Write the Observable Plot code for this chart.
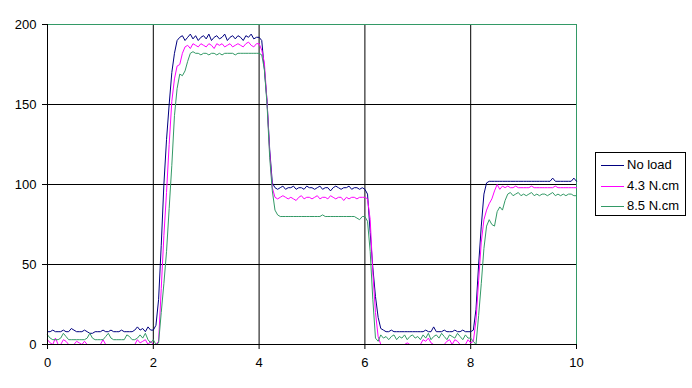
<!DOCTYPE html>
<html>
<head>
<meta charset="utf-8">
<script src="https://cdn.jsdelivr.net/npm/d3@7"></script>
<script src="https://cdn.jsdelivr.net/npm/@observablehq/plot@0.6"></script>
<style>
  html, body { margin: 0; padding: 0; background: #fff; }
  #wrap { position: relative; width: 692px; height: 388px; font-family: "Liberation Sans", Arial, sans-serif; }
  #legend { position: absolute; left: 595px; top: 152px; width: 89px; height: 62px; border: 1px solid #000; background: #fff; font-size: 13px; }
  .row { position: absolute; left: 0; height: 20px; width: 89px; }
  .sw { position: absolute; left: 5px; top: 10px; width: 23px; height: 1px; }
  .lb { position: absolute; left: 31px; top: 2px; white-space: nowrap; line-height: 16px; }
</style>
</head>
<body>
<div id="wrap"></div>
<script>
// Sample times (s), one sample every 0.05 s from 0 to 10
const sampleTimes = d3.range(201).map(i => +(i * 0.05).toFixed(2));

const seriesNames = ["No load", "4.3 N.cm", "8.5 N.cm"];
const seriesColors = ["#000080", "#FF00FF", "#339966"];

const noLoad = [
  8, 8, 9, 8, 8, 8, 9, 8, 8, 10, 9, 8, 8, 8, 9, 8, 7, 7, 8, 8,
  8, 9, 8, 8, 9, 8, 8, 8, 9, 8, 8, 8, 8, 9, 11, 9, 10, 8, 11, 9,
  9, 12, 28, 62, 100, 128, 150, 170, 182, 190, 192, 193, 190, 192, 194, 191, 193, 190, 192, 193,
  191, 194, 190, 192, 193, 191, 192, 194, 190, 192, 193, 191, 193, 192, 190, 193, 192, 194, 191, 192,
  192, 190, 172, 152, 122, 101, 98, 97, 98, 99, 97, 98, 98, 99, 97, 98, 98, 97, 99, 98,
  98, 97, 98, 99, 97, 98, 98, 96, 98, 99, 98, 97, 98, 98, 99, 97, 98, 98, 97, 98,
  97, 94, 70, 48, 30, 17, 10, 9, 8, 8, 9, 8, 8, 8, 8, 8, 8, 8, 8, 8,
  8, 8, 8, 9, 8, 8, 11, 8, 8, 8, 9, 8, 8, 8, 9, 8, 8, 9, 8, 8,
  8, 9, 22, 50, 74, 94, 101, 102, 102, 102, 102, 102, 102, 102, 102, 102, 102, 102, 102, 102,
  102, 102, 102, 102, 102, 102, 102, 102, 102, 102, 102, 104, 102, 102, 102, 102, 102, 102, 102, 104,
  102
];

const load43 = [
  3, 1, 0, 4, 0, 0, 3, 2, 0, 0, 0, 2, 1, 0, 2, 0, 0, 0, 0, 0,
  0, 3, 0, 0, 0, 0, 0, 0, 0, 0, 0, 0, 0, 0, 3, 1, 2, 3, 0, 2,
  0, 0, 2, 35, 68, 95, 125, 152, 166, 174, 175, 182, 186, 187, 185, 188, 187, 186, 188, 187,
  186, 188, 187, 185, 188, 187, 188, 186, 187, 188, 186, 187, 188, 187, 186, 188, 189, 187, 186, 188,
  188, 184, 176, 152, 120, 98, 92, 91, 92, 93, 92, 91, 92, 91, 90, 92, 93, 91, 92, 92,
  91, 92, 93, 91, 92, 92, 91, 93, 92, 91, 92, 92, 90, 92, 91, 92, 92, 91, 92, 92,
  92, 91, 78, 45, 20, 5, 0, 0, 0, 0, 0, 0, 0, 0, 0, 0, 1, 0, 0, 0,
  0, 0, 3, 2, 4, 1, 0, 0, 0, 0, 0, 2, 3, 0, 3, 2, 0, 0, 0, 3,
  1, 2, 15, 40, 64, 78, 84, 88, 91, 96, 100, 97, 99, 98, 99, 98, 98, 99, 98, 98,
  98, 98, 98, 99, 98, 98, 98, 98, 98, 98, 98, 98, 99, 98, 98, 98, 98, 98, 98, 98,
  98
];

const load85 = [
  6, 4, 3, 3, 3, 4, 7, 5, 3, 3, 3, 3, 3, 3, 3, 4, 7, 4, 3, 3,
  3, 3, 5, 7, 4, 3, 3, 3, 3, 3, 6, 5, 3, 3, 4, 6, 4, 7, 3, 1,
  3, 0, 1, 20, 38, 58, 85, 112, 143, 160, 169, 168, 171, 177, 182, 183, 182, 182, 181, 182,
  182, 181, 182, 182, 181, 182, 181, 182, 182, 182, 182, 181, 182, 182, 182, 182, 182, 182, 182, 182,
  182, 181, 172, 150, 117, 96, 84, 81, 80, 80, 80, 80, 80, 80, 80, 80, 80, 80, 80, 80,
  80, 80, 80, 80, 81, 80, 80, 80, 80, 80, 80, 80, 80, 80, 80, 80, 80, 79, 78, 80,
  80, 77, 58, 28, 4, 2, 6, 4, 5, 3, 5, 6, 3, 5, 4, 6, 3, 5, 6, 4,
  5, 3, 6, 4, 7, 3, 5, 6, 4, 7, 5, 3, 6, 5, 4, 7, 5, 3, 6, 4,
  4, 2, 0, 18, 38, 60, 74, 78, 75, 74, 83, 86, 84, 90, 94, 95, 93, 94, 95, 93,
  94, 93, 94, 95, 93, 94, 93, 94, 94, 93, 94, 95, 93, 94, 93, 94, 93, 94, 94, 93,
  93
];

const xTicks = [0, 2, 4, 6, 8, 10];
const yTicks = [0, 50, 100, 150, 200];
const xGrid = [2, 4, 6, 8];
const yGrid = [50, 100, 150];

const allValues = [noLoad, load43, load85];
const rows = allValues.map((vals, k) => vals.map((v, i) => ({t: sampleTimes[i], v, s: seriesNames[k]})));

const chart = Plot.plot({
  width: 692,
  height: 388,
  marginLeft: 47,
  marginRight: 116,
  marginTop: 24,
  marginBottom: 44,
  style: {fontFamily: "'Liberation Sans', Arial, sans-serif", fontSize: "13px", color: "#000", background: "#fff", overflow: "visible"},
  x: {domain: [0, 10], label: null},
  y: {domain: [0, 200], label: null},
  marks: [
    Plot.ruleX(xGrid, {stroke: "#000", strokeWidth: 1}),
    Plot.ruleY(yGrid, {stroke: "#000", strokeWidth: 1}),
    Plot.frame({stroke: "#339966", strokeWidth: 1}),
    ...rows.map((r, k) => Plot.line(r, {x: "t", y: "v", stroke: seriesColors[k], strokeWidth: 1})),
    Plot.ruleX([0], {stroke: "#000"}),
    Plot.ruleY([0], {stroke: "#000"}),
    Plot.axisX({ticks: xTicks, tickSize: 5, tickPadding: 8, tickFormat: d => String(d), label: null}),
    Plot.axisY({ticks: yTicks, tickSize: 5, tickPadding: 6, tickFormat: d => String(d), label: null})
  ]
});

const wrap = document.getElementById("wrap");
wrap.appendChild(chart);

const legend = document.createElement("div");
legend.id = "legend";
seriesNames.forEach((name, k) => {
  const row = document.createElement("div");
  row.className = "row";
  row.style.top = (2 + k * 20.5) + "px";
  const sw = document.createElement("div");
  sw.className = "sw";
  sw.style.background = seriesColors[k];
  const lb = document.createElement("div");
  lb.className = "lb";
  lb.textContent = name;
  row.appendChild(sw);
  row.appendChild(lb);
  legend.appendChild(row);
});
wrap.appendChild(legend);
</script>
</body>
</html>
